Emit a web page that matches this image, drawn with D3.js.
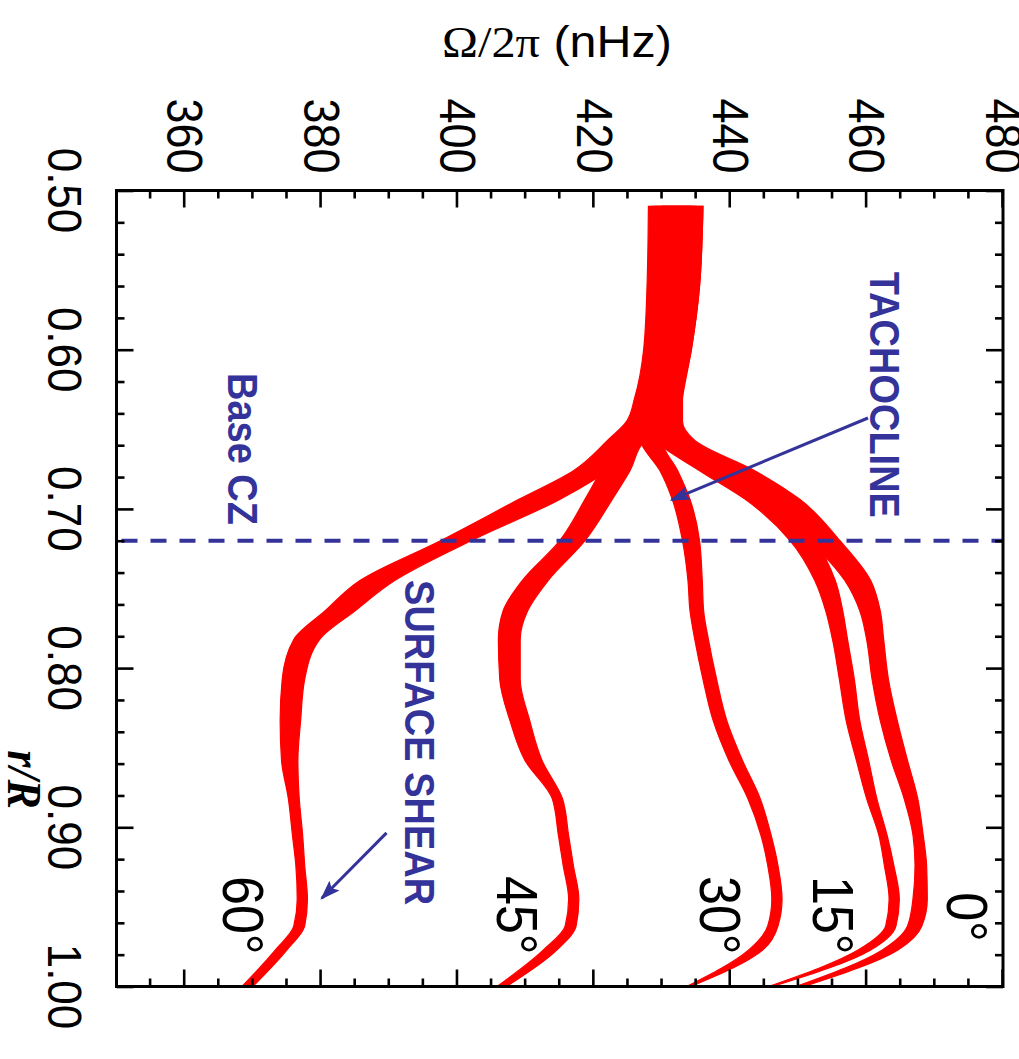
<!DOCTYPE html>
<html>
<head>
<meta charset="utf-8">
<script src="https://cdn.jsdelivr.net/npm/d3@7"></script>
<style>
  body { margin: 0; background: #fff; }
  svg { display: block; }
</style>
</head>
<body>
<script>
// Fractional radius r/R at which every rotation band is sampled
const radius = [0.51, 0.56, 0.60, 0.63, 0.645, 0.657, 0.676, 0.694, 0.72, 0.745, 0.764,
                0.782, 0.807, 0.833, 0.858, 0.882, 0.905, 0.924, 0.945, 0.962, 0.977, 1.00];

// Rotation rate Omega/2pi (nHz), [lower, upper] edge of each band, per latitude
const band0 = [[430,436],[429.5,435.5],[428.5,434.3],[427.5,433],[428,433],[430.4,434.8],[438.5,443.6],
  [445,450.2],[451.7,456.1],[456.8,460.6],[459,462],[460,462.5],[460.8,463.2],[462,464.5],[463.6,466],
  [465.5,467.5],[466.8,468.3],[467.1,468.8],[466.8,468.9],[466,468.1],[462.3,464.6],[449.6,450.8]];
const band15 = [[430,436],[429.5,435.5],[428.5,434.3],[427.5,433],[427.5,432.5],[429,433.4],[435.5,440],
  [442.2,446.6],[448.8,452.4],[452.4,455.4],[454,456.5],[455,457.2],[456,458.2],[457,459],[458.5,460.3],
  [460,461.5],[461.8,463],[462.6,464],[463.3,464.8],[462.8,464.3],[458.8,460.6],[445.6,446.2]];
const band30 = [[429,435],[428.5,434.5],[428,433.8],[427,432.5],[426.5,432],[426.8,430],[429.7,432.3],
  [431.5,434.1],[433,435.5],[433.8,435.9],[434.1,436.1],[434.8,436.8],[436,438],[437.5,439.5],[439.8,441.8],
  [442.6,444.4],[444.5,446],[445.5,447],[446.1,447.6],[445.5,447],[442.7,444.8],[433.6,434.2]];
const band45 = [[428.5,434.5],[428,434],[427.5,433.2],[426.5,432],[425.5,431],[423,427.5],[421,425.3],
  [418.7,422.7],[415,418.7],[409.5,413.3],[406.7,410.3],[406,409.2],[406.2,409.2],[407.7,410.6],[409.9,412.4],
  [413.9,415.4],[414.8,416.3],[415.5,417],[416.3,417.8],[415.8,417.4],[412.6,414.6],[405.8,407.2]];
const band60 = [[428,434],[427.8,433.5],[427.3,433],[426,431.5],[424.8,430.5],[422,426.7],[417,422],
  [409,415],[397.5,402],[385.7,390.8],[380.6,385],[376,379.8],[374.3,377.6],[374,377],[374.2,376.6],
  [375.2,376.8],[375.8,377.3],[376.3,377.6],[376.5,378],[376,377.6],[373.3,375],[368.4,370]];

const bands = [band0, band15, band30, band45, band60];
const latitudeLabels = ["0°", "15°", "30°", "45°", "60°"];
// where each latitude label sits: [r at end of text, Omega at baseline]
const latitudeLabelPos = [[0.972, 471.8], [0.980, 452.1], [0.980, 435.6], [0.980, 405.8], [0.980, 365.6]];

const omegaTicks = [360, 380, 400, 420, 440, 460, 480];
const radiusTicks = [0.50, 0.60, 0.70, 0.80, 0.90, 1.00];
const baseCZ = 0.72;

// ---------------------------------------------------------------------------
const width = 1019, height = 1059;
const svg = d3.select("body").append("svg").attr("width", width).attr("height", height);

// Plot box on the page; the plot itself is drawn with r along x and then turned 90deg clockwise
const box = { left: 116.5, right: 1003, top: 190.5, bottom: 986.5 };
const innerW = box.bottom - box.top;   // length of the r/R axis
const innerH = box.right - box.left;   // length of the Omega axis

const x = d3.scaleLinear().domain([0.5, 1.0]).range([0, innerW]);
const y = d3.scaleLinear().domain([350, 480]).range([innerH, 0]);

const g = svg.append("g").attr("transform", `translate(${box.right},${box.top}) rotate(90)`);

const sans = "'Liberation Sans', Arial, Helvetica, sans-serif";
const serif = "'Liberation Serif', 'Times New Roman', serif";
const blue = "#33339a";
const stretch = 1.1; // glyphs are drawn slightly tall across the page

g.append("clipPath").attr("id", "plot-clip")
  .append("rect").attr("width", innerW).attr("height", innerH);

// rotation bands
const area = d3.area()
  .x((d, i) => x(radius[i]))
  .y0(d => y(d[0]))
  .y1(d => y(d[1]))
  .curve(d3.curveMonotoneX);

g.append("g").attr("clip-path", "url(#plot-clip)")
  .selectAll("path").data(bands).join("path")
  .attr("d", area)
  .attr("fill", "#ff0000")
  .attr("stroke", "#ff0000")
  .attr("stroke-width", 1.2);

// base of the convection zone
g.append("line")
  .attr("x1", x(baseCZ)).attr("x2", x(baseCZ))
  .attr("y1", innerH - 5).attr("y2", 0)
  .attr("stroke", blue).attr("stroke-width", 4)
  .attr("stroke-dasharray", "16,13");

// ticks on all four sides, pointing inward
function tickStyle(sel) {
  sel.select(".domain").remove();
  sel.selectAll("line").attr("stroke", "#000").attr("stroke-width", 2.6);
  sel.selectAll("text").remove();
}
const minorR = d3.range(0.52, 1.0, 0.02).filter(v => Math.abs(v * 10 - Math.round(v * 10)) > 1e-6);
const minorO = d3.range(355, 480, 5).filter(v => v % 20 !== 0);

g.append("g").attr("transform", `translate(0,${innerH})`)
  .call(d3.axisBottom(x).tickValues(radiusTicks).tickSize(-17).tickFormat("")).call(tickStyle);
g.append("g").attr("transform", `translate(0,${innerH})`)
  .call(d3.axisBottom(x).tickValues(minorR).tickSize(-8).tickFormat("")).call(tickStyle);
g.append("g")
  .call(d3.axisTop(x).tickValues(radiusTicks).tickSize(-17).tickFormat("")).call(tickStyle);
g.append("g")
  .call(d3.axisTop(x).tickValues(minorR).tickSize(-8).tickFormat("")).call(tickStyle);
g.append("g")
  .call(d3.axisLeft(y).tickValues(omegaTicks).tickSize(-17).tickFormat("")).call(tickStyle);
g.append("g")
  .call(d3.axisLeft(y).tickValues(minorO).tickSize(-8).tickFormat("")).call(tickStyle);
g.append("g").attr("transform", `translate(${innerW},0)`)
  .call(d3.axisRight(y).tickValues(omegaTicks).tickSize(-17).tickFormat("")).call(tickStyle);
g.append("g").attr("transform", `translate(${innerW},0)`)
  .call(d3.axisRight(y).tickValues(minorO).tickSize(-8).tickFormat("")).call(tickStyle);

// frame
g.append("rect").attr("width", innerW).attr("height", innerH)
  .attr("fill", "none").attr("stroke", "#000").attr("stroke-width", 3);

// tick labels
g.append("g").selectAll("text").data(radiusTicks).join("text")
  .attr("transform", d => `translate(${x(d)},${innerH + 34}) scale(1,${stretch})`)
  .attr("dy", "0.71em")
  .attr("text-anchor", "middle")
  .attr("font-family", sans).attr("font-size", 44)
  .text(d3.format(".2f"));

g.append("g").selectAll("text").data(omegaTicks).join("text")
  .attr("transform", d => `translate(-17,${y(d)}) scale(1,${stretch})`)
  .attr("dy", "0.35em")
  .attr("text-anchor", "end")
  .attr("font-family", sans).attr("font-size", 45)
  .text(d => d);

// r/R axis title
g.append("text")
  .attr("transform", `translate(${x(0.87)},${innerH + 109}) scale(1,${stretch})`)
  .attr("text-anchor", "middle")
  .attr("font-family", serif).attr("font-size", 44)
  .attr("font-weight", "bold").attr("font-style", "italic")
  .text("r/R");

// Omega axis title (reads across the page)
const title = svg.append("text")
  .attr("transform", `translate(442,57) scale(${stretch},1)`)
  .attr("font-size", 44);
title.append("tspan").attr("font-family", serif).text("Ω/2π");
title.append("tspan").attr("font-family", sans).text(" (nHz)");

// latitude labels
g.append("g").selectAll("text").data(latitudeLabels).join("text")
  .attr("transform", (d, i) => `translate(${x(latitudeLabelPos[i][0])},${y(latitudeLabelPos[i][1])}) scale(1,${stretch})`)
  .attr("text-anchor", "end")
  .attr("font-family", sans).attr("font-size", 52)
  .text(d => d);

// annotations
const defs = svg.append("defs");
defs.append("marker").attr("id", "arrow-head")
  .attr("markerUnits", "userSpaceOnUse")
  .attr("viewBox", "0 0 20 14").attr("refX", 18).attr("refY", 7)
  .attr("markerWidth", 20).attr("markerHeight", 14).attr("orient", "auto")
  .append("path").attr("d", "M0,0 L20,7 L0,14 L4,7 Z").attr("fill", blue);

const notes = [
  { text: "TACHOCLINE", r: 0.551, omega: 460.5 },
  { text: "Base CZ", r: 0.6146, omega: 366.3 },
  { text: "SURFACE SHEAR", r: 0.7447, omega: 392.3 }
];
g.append("g").selectAll("text").data(notes).join("text")
  .attr("transform", d => `translate(${x(d.r)},${y(d.omega)}) scale(1,${stretch})`)
  .attr("font-family", sans).attr("font-size", 38).attr("font-weight", "bold")
  .attr("fill", blue)
  .text(d => d.text);

const arrows = [
  { from: [0.6429, 460.2], to: [0.6944, 431.4] },
  { from: [0.9035, 389.6], to: [0.9446, 380.1] }
];
g.append("g").selectAll("line").data(arrows).join("line")
  .attr("x1", d => x(d.from[0])).attr("y1", d => y(d.from[1]))
  .attr("x2", d => x(d.to[0])).attr("y2", d => y(d.to[1]))
  .attr("stroke", blue).attr("stroke-width", 3)
  .attr("marker-end", "url(#arrow-head)");
</script>
</body>
</html>
